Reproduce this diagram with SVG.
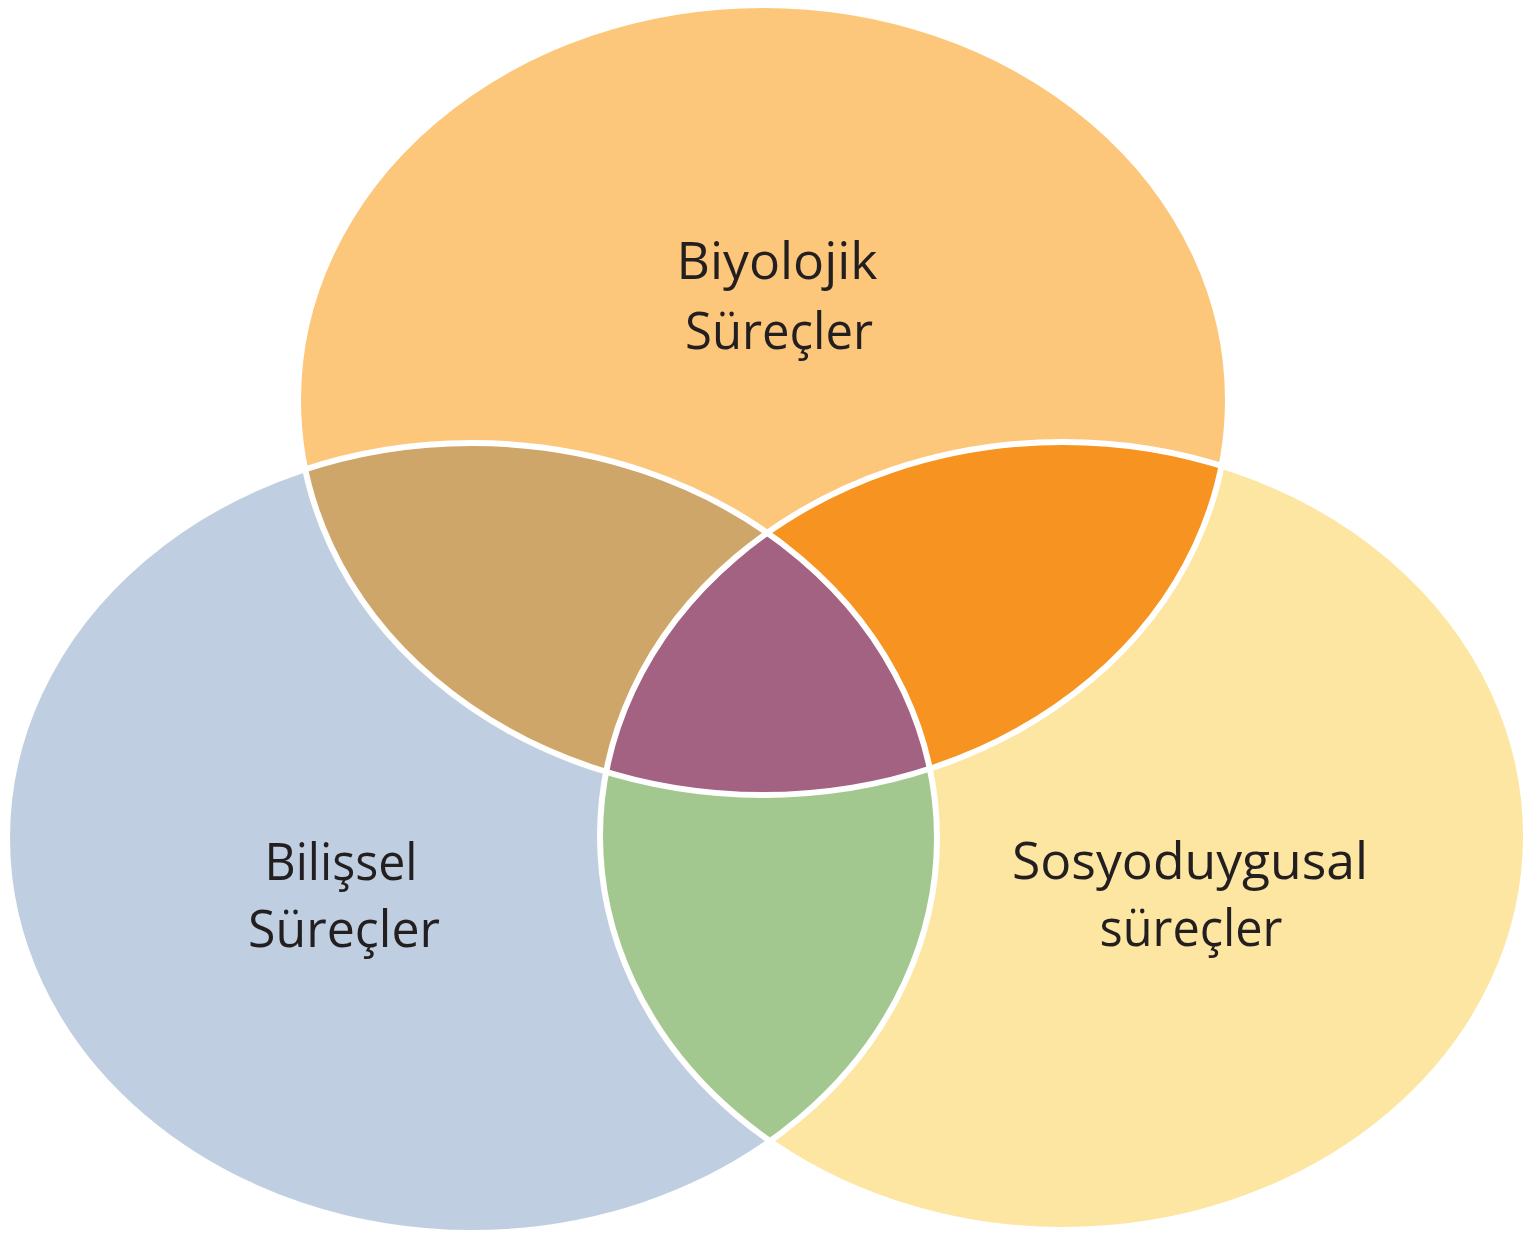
<svg xmlns="http://www.w3.org/2000/svg" width="1538" height="1238" viewBox="0 0 1538 1238">
<style>
.lbl{font-family:"Open Sans","Noto Sans","Liberation Sans",sans-serif;font-size:52px;fill:#231F20;text-anchor:middle}
.edge{fill:none;stroke:#FFFFFF;stroke-width:6}
</style>
<defs>
<ellipse id="eTop" cx="763" cy="400" rx="465" ry="395"/>
<ellipse id="eLeft" cx="472" cy="838" rx="465" ry="395"/>
<ellipse id="eRight" cx="1063" cy="836" rx="463" ry="394"/>
<clipPath id="cTop"><use href="#eTop"/></clipPath>
<clipPath id="cLeft"><use href="#eLeft"/></clipPath>
<clipPath id="cRight"><use href="#eRight"/></clipPath>
</defs>
<rect width="1538" height="1238" fill="#FFFFFF"/>
<g id="node-biyolojik">
<use href="#eTop" fill="#FDC77B"/>
</g>
<g id="node-bilissel">
<use href="#eLeft" fill="#BFCFE1"/>
</g>
<g id="node-sosyoduygusal">
<use href="#eRight" fill="#FDE5A2"/>
</g>
<g id="overlap-top-left" clip-path="url(#cTop)">
<use href="#eLeft" fill="#CFA66A"/>
</g>
<g id="overlap-top-right" clip-path="url(#cTop)">
<use href="#eRight" fill="#F79321"/>
</g>
<g id="overlap-left-right" clip-path="url(#cLeft)">
<use href="#eRight" fill="#A2C88F"/>
</g>
<g id="overlap-center" clip-path="url(#cTop)">
<g clip-path="url(#cLeft)">
<use href="#eRight" fill="#A46283"/>
</g>
</g>
<g id="connectors">
<use href="#eTop" class="edge"/>
<use href="#eLeft" class="edge"/>
<use href="#eRight" class="edge"/>
</g>
<g id="labels">
<text class="lbl" x="777" y="279" textLength="201" lengthAdjust="spacingAndGlyphs">Biyolojik</text>
<text class="lbl" x="779" y="349" textLength="188" lengthAdjust="spacingAndGlyphs">Süreçler</text>
<text class="lbl" x="341" y="880" textLength="153" lengthAdjust="spacingAndGlyphs">Bilişsel</text>
<text class="lbl" x="344" y="947" textLength="192" lengthAdjust="spacingAndGlyphs">Süreçler</text>
<text class="lbl" x="1190" y="879" textLength="356" lengthAdjust="spacingAndGlyphs">Sosyoduygusal</text>
<text class="lbl" x="1191" y="946" textLength="183" lengthAdjust="spacingAndGlyphs">süreçler</text>
</g>
</svg>
